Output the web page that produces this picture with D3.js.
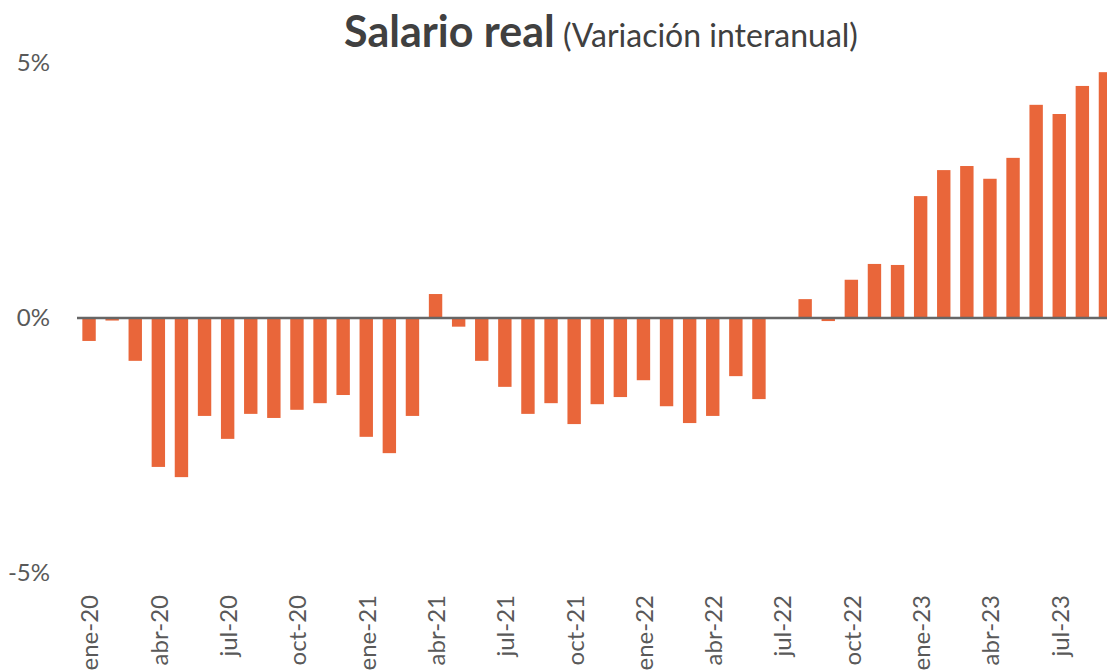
<!DOCTYPE html>
<meta charset="utf-8">
<style>
  body { margin: 0; background: #fff; }
  text { font-family: Lato, "Open Sans", sans-serif; }
</style>
<script src="https://d3js.org/d3.v7.min.js"></script>
<body>
</body>
<script>
// meses (eje x) y variacion interanual del salario real, en %
var months = [
  "ene-20","feb-20","mar-20","abr-20","may-20","jun-20","jul-20","ago-20","sep-20","oct-20","nov-20","dic-20",
  "ene-21","feb-21","mar-21","abr-21","may-21","jun-21","jul-21","ago-21","sep-21","oct-21","nov-21","dic-21",
  "ene-22","feb-22","mar-22","abr-22","may-22","jun-22","jul-22","ago-22","sep-22","oct-22","nov-22","dic-22",
  "ene-23","feb-23","mar-23","abr-23","may-23","jun-23","jul-23","ago-23","sep-23"
];
var salario = [
  -0.45, -0.05, -0.84, -2.92, -3.12, -1.92, -2.37, -1.88, -1.96, -1.80, -1.67, -1.51,
  -2.33, -2.65, -1.92,  0.47, -0.17, -0.84, -1.35, -1.88, -1.67, -2.08, -1.69, -1.55,
  -1.22, -1.73, -2.06, -1.92, -1.14, -1.59,  null,  0.37, -0.06,  0.75,  1.06,  1.04,
   2.39,  2.90,  2.98,  2.73,  3.14,  4.18,  4.00,  4.55,  4.82
];
var tickMonths = ["ene-20","abr-20","jul-20","oct-20","ene-21","abr-21","jul-21","oct-21",
  "ene-22","abr-22","jul-22","oct-22","ene-23","abr-23","jul-23"];
var yTicks = [-5, 0, 5];

var width = 1107,
    height = 670;

var svg = d3.select("body").append("svg")
    .attr("width", width)
    .attr("height", height);

var x = d3.scaleBand()
    .domain(months)
    .range([77.5, 77.5 + 45 * 23.1])
    .paddingInner(0.42)
    .paddingOuter(0.21);

var y = d3.scaleLinear()
    .domain([-5, 5])
    .range([573, 63]);

// titulo
var title = svg.append("text")
    .attr("x", 601)
    .attr("y", 47)
    .attr("text-anchor", "middle")
    .style("fill", "#404040");
title.append("tspan")
    .style("font-weight", "bold")
    .style("font-size", "43px")
    .text("Salario real");
title.append("tspan")
    .style("font-size", "32px")
    .text(" (Variación interanual)");

// barras
var data = months.map(function(m, i) { return { month: m, value: salario[i] }; })
    .filter(function(d) { return d.value != null; });

svg.selectAll(".bar").data(data).enter().append("rect")
    .attr("class", "bar")
    .attr("x", function(d) { return x(d.month); })
    .attr("width", x.bandwidth())
    .attr("y", function(d) { return y(Math.max(0, d.value)); })
    .attr("height", function(d) { return Math.abs(y(d.value) - y(0)); })
    .style("fill", "#E9663A");

// linea del cero
svg.append("line")
    .attr("x1", 77)
    .attr("x2", width)
    .attr("y1", y(0))
    .attr("y2", y(0))
    .style("stroke", "#666")
    .style("stroke-width", 2.5);

// eje y
svg.selectAll(".ylab").data(yTicks).enter().append("text")
    .attr("class", "ylab")
    .attr("x", 50)
    .attr("y", function(d) { return y(d); })
    .attr("dy", "0.35em")
    .attr("text-anchor", "end")
    .style("font-size", "24px")
    .style("fill", "#595959")
    .text(function(d) { return d + "%"; });

// eje x
svg.selectAll(".xlab").data(tickMonths).enter().append("text")
    .attr("class", "xlab")
    .attr("transform", function(d) {
        return "translate(" + (x(d) + x.bandwidth() / 2 + 1) + ",595) rotate(-90)";
    })
    .attr("dy", "0.35em")
    .attr("text-anchor", "end")
    .style("font-size", "24px")
    .style("fill", "#595959")
    .text(function(d) { return d; });
</script>
